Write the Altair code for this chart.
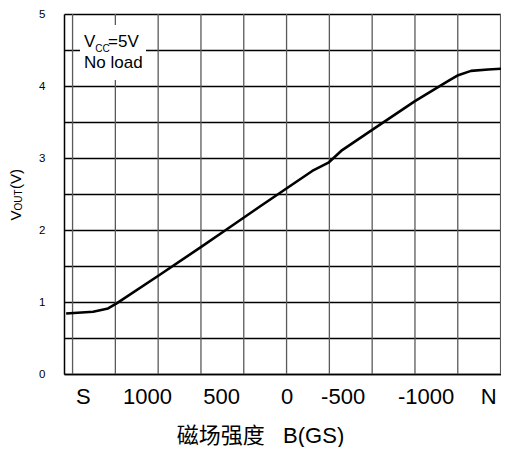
import json
import altair as alt
import pandas as pd

# Curve: x in grid-division units (0 = left axis), Vout in volts
curve_x = [0.05, 0.68, 1.03, 1.23, 2.23, 3.24, 3.78, 4.56, 5.80, 6.19, 6.50, 7.20, 8.20, 8.98, 9.21, 9.51, 9.91, 10.35]
curve_v = [0.84, 0.865, 0.91, 0.98, 1.375, 1.78, 2.0, 2.32, 2.82, 2.94, 3.11, 3.39, 3.79, 4.07, 4.15, 4.21, 4.23, 4.24]

# Vertical grid line positions
grid_x = [0.2, 1.2, 2.2, 3.2, 4.2, 5.2, 6.2, 7.2, 8.2, 9.2, 10.2]

# X tick labels and their positions
xlabel_pos = [0.44, 1.94, 3.67, 5.2, 6.51, 8.45, 9.91]
xlabel_text = ["S", "1000", "500", "0", "-500", "-1000", "N"]

# Y ticks
y_ticks = [0, 0.5, 1, 1.5, 2, 2.5, 3, 3.5, 4, 4.5, 5]

FONT = "Liberation Sans, Arial, Noto Sans CJK SC, sans-serif"

xscale = alt.Scale(domain=[0, 10.21], nice=False, zero=False, clamp=True)
yscale = alt.Scale(domain=[0, 5], nice=False, zero=False)

label_expr = f"{json.dumps(xlabel_text)}[indexof({json.dumps(xlabel_pos)}, datum.value)]"

df = pd.DataFrame({"x": curve_x, "v": curve_v})
gdf = pd.DataFrame({"gx": grid_x})

xaxis = alt.Axis(
    values=xlabel_pos, labelExpr=label_expr, grid=False, ticks=False,
    domainColor="black", domainWidth=1.5,
    labelFont=FONT, labelFontSize=22, labelColor="black",
    labelBaseline="alphabetic", labelPadding=29, labelOverlap=False,
    title="磁场强度\u00a0\u00a0\u00a0B(GS)", titleFont=FONT, titleFontSize=22,
    titleFontWeight="normal", titleColor="black",
    titleX=196, titleY=68, titleBaseline="alphabetic", titleAlign="center",
)
yaxis = alt.Axis(
    values=y_ticks, labelExpr="datum.value % 1 == 0 ? format(datum.value, 'd') : ''",
    grid=True, gridColor="black", gridWidth=1.3, gridOpacity=1,
    ticks=False, domainColor="black", domainWidth=1.5,
    labelFont=FONT, labelFontSize=11.5, labelColor="black", labelPadding=19,
    labelOverlap=False, title=None,
)

grid = alt.Chart(gdf).mark_rule(color="#5a5a5a", strokeWidth=1.3).encode(
    x=alt.X("gx:Q", scale=xscale, axis=xaxis)
)

line = alt.Chart(df).mark_line(color="black", strokeWidth=2.6, strokeJoin="round").encode(
    x=alt.X("x:Q", scale=xscale, axis=xaxis),
    y=alt.Y("v:Q", scale=yscale, axis=yaxis),
)

box = alt.Chart(pd.DataFrame({"a": [0]})).mark_rect(fill="white", stroke=None).encode(
    x=alt.value(16), x2=alt.value(82), y=alt.value(11), y2=alt.value(66)
)


def txt(s, px, py, size, angle=0):
    return alt.Chart(pd.DataFrame({"t": [s]})).mark_text(
        font=FONT, fontSize=size, color="black", align="left",
        baseline="alphabetic", angle=angle,
    ).encode(text="t:N", x=alt.value(px), y=alt.value(py))


labels = [
    txt("V", 20, 32.7, 17),
    txt("CC", 31.3, 38, 10),
    txt("=5V", 44, 32.7, 17),
    txt("No load", 20, 53.5, 17),
    txt("V", -43.3, 206.5, 15, 270),
    txt("OUT", -42, 196.5, 10, 270),
    txt("(V)", -43.3, 175, 15, 270),
]

chart = alt.layer(grid, box, line, *labels).properties(
    width=437, height=360,
    autosize=alt.AutoSizeParams(type="none"),
    padding={"left": 56, "top": 6, "right": 0, "bottom": 73},
).configure_view(stroke=None)

chart.save("out.html", embed_options={"renderer": "svg", "actions": False})
